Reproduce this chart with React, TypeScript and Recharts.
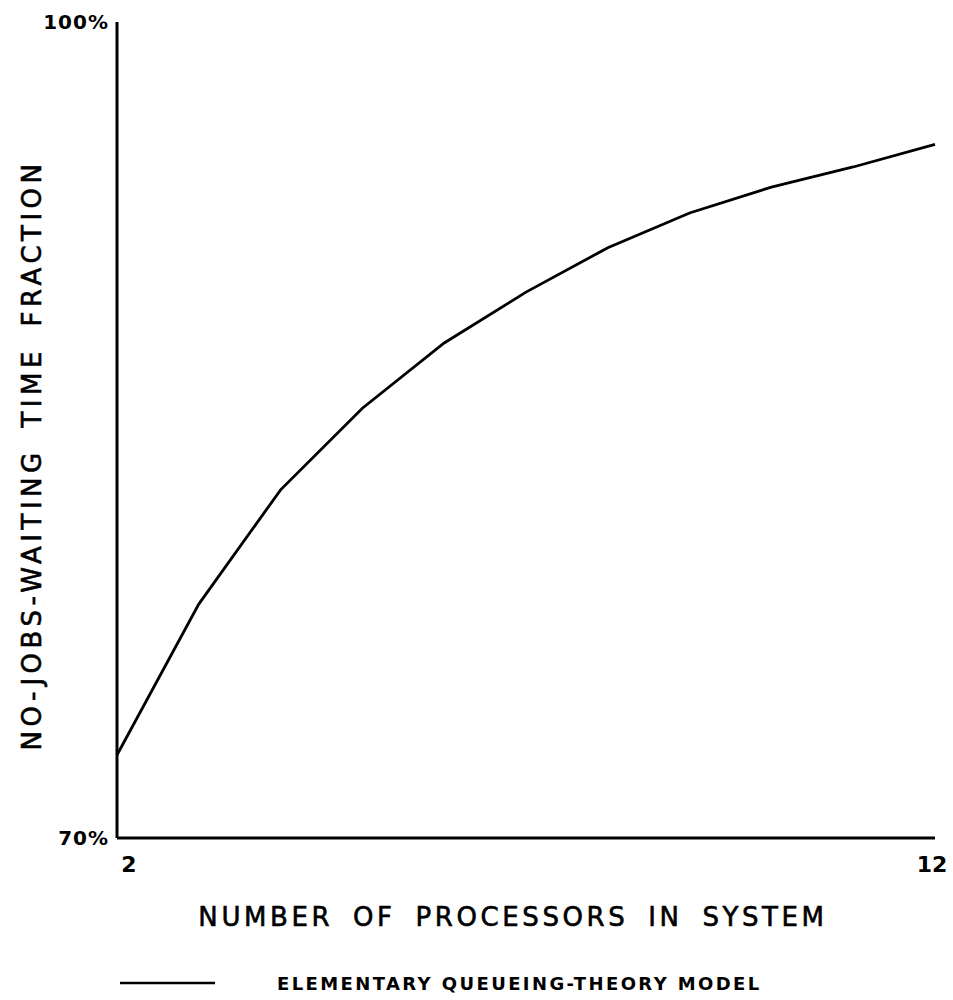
// no-jobs-waiting fraction vs processor count
import { LineChart, Line, XAxis, YAxis, Legend } from "recharts";

const processors = [2, 3, 4, 5, 6, 7, 8, 9, 10, 11, 12];
const noWaitPct = [73.05, 78.6, 82.8, 85.8, 88.2, 90.07, 91.7, 92.98, 93.93, 94.67, 95.5];
const xTicks = [2, 12];
const yTicks = [70, 100];
const seriesName = "ELEMENTARY QUEUEING-THEORY MODEL";

const data = processors.map((n, i) => ({ n, pct: noWaitPct[i] }));

const FONT = "'DejaVu Sans', sans-serif";

const renderLegend = (props: any) => {
  const item = props.payload?.[0];
  return (
    <svg width={750} height={30}>
      <line x1={20} x2={115} y1={15} y2={15} stroke="#000" strokeWidth={2.5} />
      <text
        x={177}
        y={15}
        dominantBaseline="central"
        fontFamily={FONT}
        fontWeight="bold"
        fontSize={18}
        letterSpacing={2.4}
      >
        {item ? item.value : seriesName}
      </text>
    </svg>
  );
};

// first tick label sits a bit right of the axis origin
const XTick = (props: any) => {
  const { x, y, payload, index } = props;
  return (
    <text
      x={x + (index === 0 ? 12 : -3)}
      y={y}
      dy={8}
      textAnchor="middle"
      dominantBaseline="central"
      fontFamily={FONT}
      fontWeight="bold"
      fontSize={22}
      fill="#000"
    >
      {payload.value}
    </text>
  );
};

const App = () => {
  return (
    <div style={{ position: "absolute", left: 0, top: 0, background: "#fff" }}>
      <LineChart
        width={953}
        height={1000}
        data={data}
        margin={{ top: 22, right: 18, left: 0, bottom: 102 }}
      >
        <XAxis
          dataKey="n"
          type="number"
          domain={[2, 12]}
          ticks={xTicks}
          tickLine={false}
          axisLine={{ stroke: "#000", strokeWidth: 3 }}
          height={60}
          tickMargin={12}
          tick={<XTick />}
          label={{
            content: (p: any) => {
              const vb = p.viewBox;
              return (
                <text
                  x={vb.x + vb.width / 2 - 13}
                  y={917}
                  textAnchor="middle"
                  dominantBaseline="central"
                  fontFamily={FONT}
                  fontSize={26}
                  letterSpacing={3.6}
                  wordSpacing={8}
                  stroke="#000"
                  strokeWidth={0.6}
                >
                  NUMBER OF PROCESSORS IN SYSTEM
                </text>
              );
            },
          }}
        />
        <YAxis
          type="number"
          domain={[70, 100]}
          ticks={yTicks}
          width={117}
          tickLine={false}
          axisLine={{ stroke: "#000", strokeWidth: 3 }}
          tickMargin={2}
          tickFormatter={(v) => `${v}%`}
          tick={{ fill: "#000", fontFamily: FONT, fontWeight: "bold", fontSize: 20, letterSpacing: 1 }}
          label={{
            content: (p: any) => {
              const vb = p.viewBox;
              const cy = vb.y + vb.height / 2 + 25;
              return (
                <text
                  x={32}
                  y={cy}
                  transform={`rotate(-90, 32, ${cy})`}
                  textAnchor="middle"
                  dominantBaseline="central"
                  fontFamily={FONT}
                  fontSize={26}
                  letterSpacing={4.5}
                  wordSpacing={8}
                  stroke="#000"
                  strokeWidth={0.6}
                >
                  NO-JOBS-WAITING TIME FRACTION
                </text>
              );
            },
          }}
        />
        <Legend
          verticalAlign="middle"
          layout="horizontal"
          content={renderLegend}
          wrapperStyle={{ top: 968, left: 100, width: 750 }}
        />
        <Line
          type="linear"
          dataKey="pct"
          name={seriesName}
          stroke="#000"
          strokeWidth={2.8}
          dot={false}
          isAnimationActive={false}
        />
      </LineChart>
    </div>
  );
};

export default App;
